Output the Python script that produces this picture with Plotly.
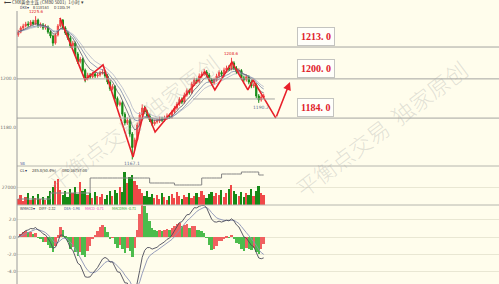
import numpy as np
import pandas as pd
import plotly.graph_objects as go

# ---------------- data ----------------
first_open = 1218.0
closes = [1219.1, 1220.8, 1221.6, 1222.4, 1222.0, 1223.2, 1222.4, 1224.0, 1221.6, 1222.0,
          1220.8, 1221.2, 1219.1, 1217.5, 1214.6, 1217.9, 1221.6, 1224.0, 1220.8, 1218.7,
          1216.7, 1213.5, 1214.6, 1210.2, 1207.0, 1208.1, 1203.5, 1200.2, 1201.6, 1200.8,
          1202.0, 1201.2, 1201.6, 1202.4, 1202.8, 1201.2, 1198.7, 1196.0, 1196.9, 1192.0,
          1189.5, 1190.3, 1185.6, 1182.0, 1183.1, 1177.5, 1172.0, 1175.1, 1181.2, 1185.3,
          1188.1, 1186.5, 1184.9, 1183.2, 1181.6, 1182.4, 1182.8, 1183.6, 1183.2, 1184.0,
          1184.9, 1184.5, 1186.5, 1188.1, 1189.7, 1191.6, 1190.5, 1193.4, 1195.2, 1194.4,
          1197.9, 1199.6, 1198.8, 1201.2, 1202.0, 1202.8, 1201.6, 1199.6, 1198.3, 1199.6,
          1201.2, 1202.6, 1201.9, 1203.6, 1204.4, 1204.0, 1206.5, 1204.4, 1202.8, 1203.4,
          1200.4, 1199.6, 1200.9, 1198.7, 1197.1, 1197.6, 1193.0, 1191.4, 1192.6, 1193.0]
highs = [1220.0, 1221.5, 1222.5, 1223.3, 1223.5, 1224.0, 1224.1, 1225.6, 1224.6, 1223.0,
         1222.8, 1222.3, 1221.8, 1219.8, 1218.0, 1218.6, 1222.4, 1224.8, 1224.4, 1221.5,
         1219.4, 1217.5, 1215.5, 1215.2, 1211.0, 1209.0, 1208.7, 1204.2, 1202.5, 1202.4,
         1202.9, 1202.8, 1202.5, 1203.3, 1204.0, 1203.5, 1201.9, 1199.4, 1197.8, 1197.5,
         1192.8, 1191.2, 1191.0, 1186.4, 1184.2, 1183.8, 1178.3, 1176.0, 1182.2, 1186.4,
         1189.6, 1189.0, 1187.4, 1185.8, 1184.0, 1183.4, 1183.9, 1184.6, 1184.5, 1185.0,
         1185.9, 1185.8, 1187.4, 1189.0, 1190.6, 1192.5, 1192.4, 1194.4, 1196.1, 1196.0,
         1198.8, 1200.5, 1200.4, 1202.2, 1203.0, 1204.0, 1203.6, 1202.4, 1200.4, 1200.5,
         1202.1, 1203.5, 1203.4, 1204.6, 1205.4, 1205.6, 1208.6, 1207.2, 1205.2, 1204.3,
         1204.0, 1201.3, 1201.8, 1201.5, 1199.5, 1198.5, 1198.2, 1193.8, 1193.5, 1193.9]
lows = [1217.2, 1218.6, 1220.0, 1221.0, 1221.2, 1221.5, 1221.8, 1222.0, 1220.8, 1220.9,
        1220.0, 1220.1, 1218.4, 1216.6, 1213.4, 1214.0, 1217.3, 1221.0, 1220.0, 1217.9,
        1215.9, 1212.6, 1212.8, 1209.4, 1206.1, 1206.3, 1202.6, 1198.6, 1199.4, 1200.0,
        1200.2, 1200.4, 1200.5, 1200.9, 1201.8, 1200.4, 1197.8, 1195.1, 1195.3, 1191.1,
        1188.6, 1188.8, 1184.7, 1181.0, 1181.2, 1176.4, 1167.1, 1170.8, 1174.6, 1180.5,
        1184.6, 1185.6, 1184.0, 1182.4, 1180.7, 1180.9, 1181.7, 1182.0, 1182.4, 1182.5,
        1183.3, 1183.7, 1183.8, 1185.8, 1187.4, 1189.0, 1189.7, 1189.9, 1192.7, 1193.6,
        1193.9, 1197.1, 1198.0, 1198.2, 1200.4, 1201.2, 1200.8, 1198.7, 1197.4, 1197.6,
        1198.9, 1200.4, 1201.0, 1201.2, 1202.9, 1203.2, 1203.5, 1203.6, 1202.0, 1202.0,
        1199.5, 1198.8, 1198.9, 1197.8, 1196.2, 1196.3, 1192.1, 1190.2, 1190.7, 1191.8]
volumes = [9000, 15000, 6000, 12000, 18000, 7500, 13500, 10500, 16500, 9000,
           12000, 7500, 13500, 21000, 27000, 36000, 39000, 22500, 15000, 21000,
           12000, 24000, 18000, 27000, 16500, 34500, 21000, 24000, 15000, 18000,
           10500, 19500, 13500, 12000, 16500, 9000, 15000, 21000, 13500, 22500,
           18000, 27000, 19500, 49500, 33000, 42000, 45000, 36000, 30000, 24000,
           18000, 13500, 21000, 12000, 16500, 10500, 15000, 9000, 18000, 12000,
           7500, 13500, 16500, 10500, 19500, 13500, 9000, 15000, 12000, 18000,
           10500, 13500, 18000, 12000, 21000, 15000, 10500, 16500, 19500, 13500,
           18000, 15000, 22500, 12000, 18000, 24000, 30000, 21000, 16500, 13500,
           19500, 12000, 18000, 15000, 24000, 13500, 21000, 28500, 18000, 15000]
open_interest = [359500, 359500, 359500, 359500, 359500, 359500, 359500, 359500, 359500, 359500,
                 359500, 359500, 359500, 361000, 361000, 361000, 361000, 361000, 361000, 361000,
                 361000, 361000, 361000, 361000, 361000, 361000, 361000, 361000, 361000, 364750,
                 364750, 364750, 364750, 364750, 364750, 364750, 364750, 364750, 364750, 364750,
                 364750, 364750, 364750, 364750, 364750, 364750, 364750, 364750, 364750, 364750,
                 364750, 364750, 364750, 363500, 363500, 363500, 363500, 363500, 363500, 363500,
                 363500, 363500, 363500, 363000, 363000, 363000, 363000, 363000, 363000, 363000,
                 363000, 363000, 363000, 363000, 364750, 364750, 364750, 364750, 364750, 364750,
                 364750, 364750, 365750, 365750, 365750, 365750, 365750, 365750, 365750, 365750,
                 366250, 366250, 366250, 366250, 366250, 366250, 366250, 365500, 365500, 365500]

levels = [1213.0, 1200.0, 1184.0]
level_labels = ["1213. 0", "1200. 0", "1184. 0"]
support_level = 1191.8
support_span = [70.5, 103.5]

zigzag_idx = [16.8, 26.9, 34.2, 46.3, 51.1, 55.2, 75.3, 79.3, 86.2, 92.6, 94.7, 103.9]
zigzag_price = [1224.9, 1199.6, 1205.7, 1168.1, 1188.5, 1178.3, 1202.8, 1195.5,
                1206.9, 1195.5, 1199.6, 1184.0]
arrow_target = [109.6, 1198.7]

price_ticks = [1180, 1200]
price_ticktext = ["1180.0", "1200.0"]
vol_ticks = [27000]
macd_ticks = [2, 0, -2, -4]
macd_ticktext = ["2.0", "0.0", "-2.0", "-4.0"]

peak_labels = [("1225.6", 7, "high"), ("1208.6", 86, "high"),
               ("1167.1", 46, "low"), ("1190.2", 97, "low")]

# ---------------- derived ----------------
n = len(closes)
idx = list(range(n))
opens = [first_open] + closes[:-1]
s = pd.Series(closes, dtype=float)
dkx1 = s.ewm(span=6, adjust=False).mean()
dkx2 = s.ewm(span=10, adjust=False).mean()
dkx3 = s.ewm(span=14, adjust=False).mean()
ema_f = s.ewm(span=6, adjust=False).mean()
ema_s = s.ewm(span=13, adjust=False).mean()
diff = ema_f - ema_s
dea = diff.ewm(span=5, adjust=False).mean()
hist = 2 * (diff - dea)
RED, GREEN = "#f04848", "#168a16"
HRED, HGREEN = "#f06060", "#4cbc4c"
hist_colors = [HRED if (i == 0 or hist[i] >= hist[i - 1]) else HGREEN for i in range(n)]
vol_colors = [RED if c >= o else GREEN for o, c in zip(opens, closes)]

W, H, L = 499, 284, 17
def px_x(p):
    return (p - L) / (W - L)
def px_y(p):
    return 1 - p / H

BG = "#fffdec"
fig = go.Figure()

fig.add_trace(go.Candlestick(x=idx, open=opens, high=highs, low=lows, close=closes,
                             increasing=dict(line=dict(color=RED, width=1), fillcolor=RED),
                             decreasing=dict(line=dict(color=GREEN, width=1), fillcolor=GREEN),
                             whiskerwidth=0, xaxis="x", yaxis="y", hoverinfo="skip"))
for ser, col in [(dkx3, "#b2b6c8"), (dkx2, "#7886aa"), (dkx1, "#5c5c6c")]:
    fig.add_trace(go.Scatter(x=idx, y=ser, mode="lines", line=dict(color=col, width=0.8),
                             xaxis="x", yaxis="y", hoverinfo="skip"))
fig.add_trace(go.Scatter(x=zigzag_idx, y=zigzag_price, mode="lines",
                         line=dict(color="#e8202a", width=1.6), xaxis="x", yaxis="y"))

fig.add_trace(go.Bar(x=idx, y=volumes, marker=dict(color=vol_colors, line=dict(width=0)),
                     width=0.7, xaxis="x", yaxis="y2"))
fig.add_trace(go.Scatter(x=idx, y=open_interest, mode="lines", line=dict(color="#858585", width=1, shape="hv"),
                         xaxis="x", yaxis="y4"))

fig.add_trace(go.Bar(x=idx, y=hist, marker=dict(color=hist_colors, line=dict(width=0)),
                     width=1.0, xaxis="x", yaxis="y3"))
fig.add_trace(go.Scatter(x=idx, y=dea, mode="lines", line=dict(color="#8a92b4", width=0.9),
                         xaxis="x", yaxis="y3"))
fig.add_trace(go.Scatter(x=idx, y=diff, mode="lines", line=dict(color="#4a4a58", width=0.9),
                         xaxis="x", yaxis="y3"))

tick_font = dict(size=4.5, color="#707070", family="DejaVu Sans")
fig.update_layout(
    width=W, height=H, margin=dict(l=L, r=0, t=0, b=0),
    paper_bgcolor=BG, plot_bgcolor=BG, showlegend=False, bargap=0,
    xaxis=dict(range=[-0.5, 193.9], showticklabels=False, showgrid=False, zeroline=False,
               showline=False, ticks="", rangeslider=dict(visible=False), anchor="y3"),
    yaxis=dict(domain=[px_y(166), px_y(12)], range=[1164.44, 1227.3], tickvals=price_ticks,
               ticktext=price_ticktext, tickfont=tick_font, showgrid=False, zeroline=False, ticks=""),
    yaxis2=dict(domain=[px_y(205), px_y(166)], range=[0, 58500], tickvals=vol_ticks,
                tickfont=tick_font, showgrid=True, gridcolor="#e9e7d3", gridwidth=1,
                zeroline=False, ticks="", tickformat="d"),
    yaxis4=dict(overlaying="y2", range=[358000, 367750], visible=False),
    yaxis3=dict(domain=[0, px_y(205)], range=[-5.43, 3.70], tickvals=macd_ticks,
                ticktext=macd_ticktext, tickfont=tick_font, showgrid=True,
                gridcolor="#e9e7d3", gridwidth=1, zeroline=False, ticks=""),
)

shapes = []
for lv in levels:
    shapes.append(dict(type="line", xref="paper", yref="y", x0=0, x1=1, y0=lv, y1=lv,
                       line=dict(color="#a4a4a0", width=1)))
shapes.append(dict(type="line", xref="x", yref="y", x0=support_span[0], x1=support_span[1],
                   y0=support_level, y1=support_level, line=dict(color="#a4a4a0", width=1)))
for p in (166, 205):
    shapes.append(dict(type="line", xref="paper", yref="paper", x0=0, x1=1, y0=px_y(p), y1=px_y(p),
                       line=dict(color="#b6b6ae", width=1)))
shapes.append(dict(type="line", xref="paper", yref="paper", x0=0, x1=0, y0=0, y1=px_y(11),
                   line=dict(color="#9a9a9a", width=1)))
fig.update_layout(shapes=shapes)

ann = []
def txt(x, y, t, size=4.5, color="#303030", xanchor="left"):
    ann.append(dict(xref="paper", yref="paper", x=px_x(x), y=px_y(y), text=t, showarrow=False,
                    xanchor=xanchor, yanchor="middle", font=dict(size=size, color=color,
                    family="Noto Sans CJK SC")))

txt(2, 3.0, "⟵ CMX黄金主连 (CMB0 5001)  1小时 ▾", 4.5, "#404040")
txt(18, 7.5, "DKX▾", 3.5, "#303050")
txt(31, 7.5, "B 1183.63", 3.5, "#303030")
txt(52, 7.5, "D 1185.34", 3.5, "#303030")
txt(18, 163, "5B", 4, "#4050a0")
txt(18, 170, "CL▾", 4, "#303050")
txt(30, 170, "285.8(50.4%)", 4, "#303030")
txt(60, 170, "0RD 36757.08", 4, "#303030")
txt(18, 208, "WMACD▾", 3.6, "#303050")
txt(37, 208, "DIFF -2.32", 3.6, "#303030")
txt(62, 208, "DEA -1.98", 3.6, "#3050a0")
txt(83, 208, "MACD -0.71", 3.6, "#e040c0")
txt(110, 208, "MACDMA -0.71", 3.6, "#30a030")

for t, i, kind in peak_labels:
    if kind == "high":
        ann.append(dict(xref="x", yref="y", x=i, y=highs[i], text=t, showarrow=False,
                        yanchor="bottom", yshift=0, font=dict(size=4, color="#e02020", family="DejaVu Sans")))
    else:
        ann.append(dict(xref="x", yref="y", x=i, y=lows[i], text=t, showarrow=False,
                        yanchor="top", xshift=2 if i > 60 else 0,
                        font=dict(size=4.5, color="#5a7090", family="DejaVu Sans")))

for lv, lab in zip(levels, level_labels):
    ann.append(dict(xref="x", yref="y", x=112.4, y=lv, text="<b>" + lab + "</b>", showarrow=False,
                    xanchor="left", yanchor="bottom", yshift=1, bgcolor="#fffffa",
                    bordercolor="#c4c4c0", borderwidth=1, borderpad=3,
                    font=dict(size=10, color="#e0202a", family="Liberation Serif")))

ann.append(dict(xref="x", yref="y", axref="x", ayref="y", x=arrow_target[0], y=arrow_target[1],
                ax=zigzag_idx[-1], ay=zigzag_price[-1], text="", showarrow=True,
                arrowhead=2, arrowsize=1, arrowwidth=1.6, arrowcolor="#e8202a"))

for cx, cy in [(133, 122), (381, 128)]:
    ann.append(dict(xref="paper", yref="paper", x=px_x(cx), y=px_y(cy), text="平衡点交易  独家原创",
                    showarrow=False, textangle=-37, xanchor="center", yanchor="middle",
                    font=dict(size=22, color="rgba(165,165,165,0.32)", family="Noto Sans CJK SC",
                              weight=300)))

fig.update_layout(annotations=ann)
fig.write_html("out.html")
